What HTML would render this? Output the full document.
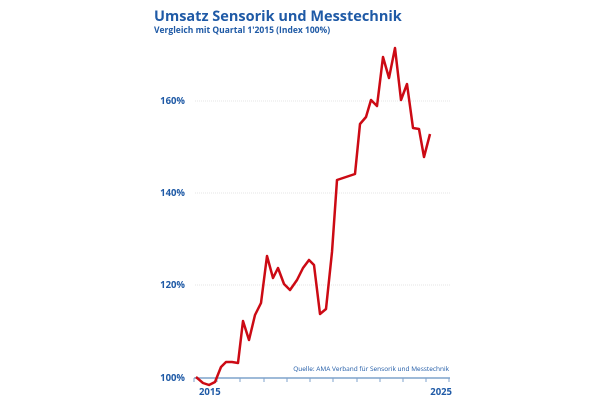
<!DOCTYPE html>
<html><head><style>
body{margin:0;background:#fff;}
svg{display:block;font-family:"Open Sans","Liberation Sans",sans-serif;}
</style></head><body>
<svg width="600" height="400" viewBox="0 0 600 400" xmlns="http://www.w3.org/2000/svg">
<text x="154" y="21" font-size="14.5" font-weight="bold" fill="#1f5aa6">Umsatz Sensorik und Messtechnik</text>
<text x="154" y="33" font-size="8.5" font-weight="bold" fill="#1f5aa6">Vergleich mit Quartal 1'2015 (Index 100%)</text>
<g stroke="#ddd" stroke-width="0.7" stroke-dasharray="1,1">
<line x1="195" y1="101" x2="450" y2="101"/><line x1="195" y1="193" x2="450" y2="193"/><line x1="195" y1="285" x2="450" y2="285"/>
</g>
<g font-size="9.5" font-weight="bold" fill="#1f5aa6" text-anchor="end">
<text x="185" y="104">160%</text><text x="185" y="196">140%</text><text x="185" y="288">120%</text><text x="185" y="381">100%</text>
</g>
<line x1="194" y1="378" x2="450" y2="378" stroke="#7fa3cc" stroke-width="1.5"/>
<g stroke="#7fa3cc" stroke-width="1">
<line x1="194" y1="378" x2="194" y2="382"/><line x1="217" y1="378" x2="217" y2="382"/><line x1="240" y1="378" x2="240" y2="382"/><line x1="264" y1="378" x2="264" y2="382"/><line x1="287" y1="378" x2="287" y2="382"/><line x1="310" y1="378" x2="310" y2="382"/><line x1="333" y1="378" x2="333" y2="382"/><line x1="357" y1="378" x2="357" y2="382"/><line x1="380" y1="378" x2="380" y2="382"/><line x1="403" y1="378" x2="403" y2="382"/><line x1="426" y1="378" x2="426" y2="382"/><line x1="449" y1="378" x2="449" y2="382"/>
</g>
<text x="199" y="395" font-size="9.5" font-weight="bold" fill="#1f5aa6">2015</text>
<text x="452" y="395" font-size="9.5" font-weight="bold" fill="#1f5aa6" text-anchor="end">2025</text>
<text x="449" y="371" font-size="6.5" fill="#1f5aa6" text-anchor="end">Quelle: AMA Verband für Sensorik und Messtechnik</text>
<polyline fill="none" stroke="#cc0a14" stroke-width="2.5" stroke-linejoin="round" points="196,377 203,383 209,385 215,382 221,367 226,362 232,362 238,363 243,321 249,340 255,315 261,303 267,256 273,278 278,268 284,284 290,290 297,280 303,268 309,260 314,265 320,314 326,309 332,252 337,180 343,178 349,176 355,174 360,124 366,117 371,100 377,106 383,57 389,78 395,48 401,100 407,84 413,128 419,129 424,157 430,134"/>
</svg>
</body></html>
